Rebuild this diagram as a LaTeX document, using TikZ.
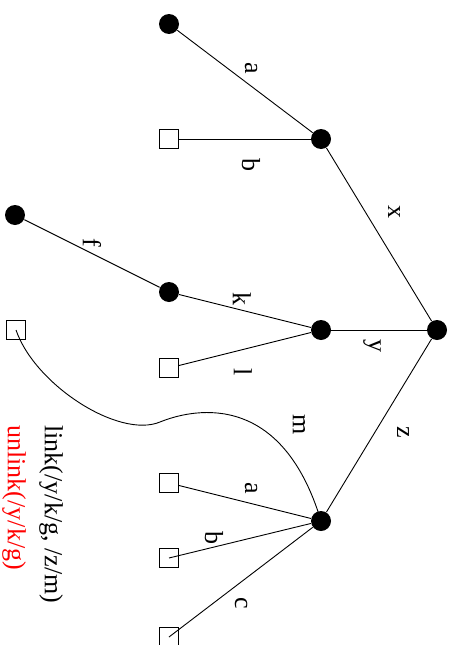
\documentclass[tikz,border=0pt]{standalone}
\usepackage{fontspec}
\setmainfont{Liberation Serif}
\begin{document}
\begin{tikzpicture}[x=1pt, y=-1pt, line width=0.9pt,
		dot/.style={circle, fill, inner sep=0pt, minimum size=20pt},
		box/.style={rectangle, draw, inner sep=0pt, minimum size=19pt},
		lab/.style={rotate=-90, inner sep=0pt, font=\fontsize{26}{30}\selectfont}]
		\useasboundingbox (0, 0) rectangle (456, 645);

		\node[dot] (R) at (437, 330) {};
		\node[dot] (X) at (321, 139) {};
		\node[dot] (Y) at (321, 330) {};
		\node[dot] (Z) at (321, 521) {};
		\node[dot] (Xa) at (169, 24) {};
		\node[box] (Xb) at (169, 139) {};
		\node[dot] (K) at (169, 292) {};
		\node[box] (L) at (169, 368) {};
		\node[dot] (F) at (15, 215) {};
		\node[box] (G) at (16, 330) {};
		\node[box] (Za) at (169, 483) {};
		\node[box] (Zb) at (169, 558) {};
		\node[box] (Zc) at (169, 637) {};

		\draw (R) -- (X);
		\draw (R) -- (Y);
		\draw (R) -- (Z);
		\draw (X) -- (Xa);
		\draw (X) -- (Xb);
		\draw (Y) -- (K);
		\draw (Y) -- (L);
		\draw (K) -- (F);
		\draw (Z) -- (Za);
		\draw (Z) -- (Zb.center);
		\draw (Z) -- (Zc.center);

		% リンク m は曲線で g へ
		\coordinate (bump) at (160, 422);
		\draw (G.center) .. controls (35, 385) and (119, 439) .. (bump)
			.. controls (187, 411) and (280, 385) .. (Z.center);

		% 辺のラベル
		\node[lab] (ta) at (251, 68) {a};
		\node[lab] (tb) at (251, 165) {b};
		\node[lab] (tx) at (394, 212) {x};
		\node[lab] (tf) at (92, 243) {f};
		\node[lab] (tk) at (242, 299) {k};
		\node[lab] (ty) at (372, 346) {y};
		\node[lab] (tl) at (243, 372) {l};
		\node[lab] (tm) at (299, 425) {m};
		\node[lab] (tz) at (403, 432) {z};
		\node[lab] (tza) at (251, 488) {a};
		\node[lab] (tzb) at (214, 538) {b};
		\node[lab] (tzc) at (241, 603) {c};

		\node[lab, anchor=west] (link) at (51, 425) {link(/y/k/g, /z/m)};
		\node[lab, anchor=west, text=red] (unlink) at (14, 425) {unlink(/y/k/g)};
	\end{tikzpicture}
\end{document}
